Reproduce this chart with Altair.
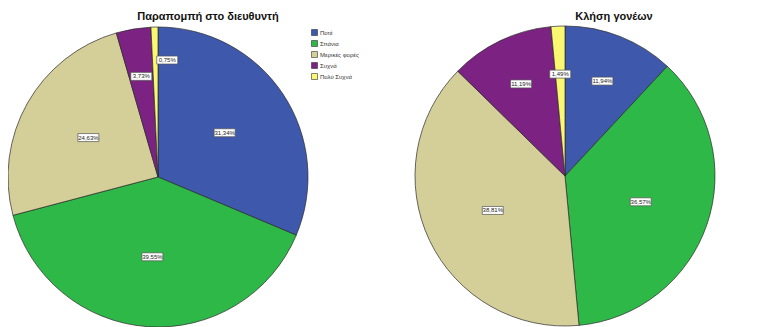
import altair as alt
import pandas as pd

categories = ["Ποτέ", "Σπάνια", "Μερικές φορές", "Συχνά", "Πολύ Συχνά"]
colors = ["#3E58AC", "#2EB848", "#D4CE98", "#7C2282", "#FAF772"]
titles = ["Παραπομπή στο διευθυντή", "Κλήση γονέων"]
values_referral = [31.34, 39.55, 24.63, 3.73, 0.75]
values_parents = [11.94, 36.57, 38.81, 11.19, 1.49]

W, H = 753, 319
R = 150
FONT = "Liberation Sans"


def frame(values):
    return pd.DataFrame({"cat": categories, "idx": list(range(len(categories))), "value": values})


def pie_layers(values, cx, cy, title, tx, channel, legend_x):
    df = frame(values)
    base = alt.Chart(df)
    scale = alt.Scale(domain=categories, range=colors)
    legend = alt.Legend(
        title=None, orient="none", legendX=legend_x, legendY=21,
        symbolType="square", symbolSize=36, symbolStrokeColor="#333",
        symbolStrokeWidth=0.6, symbolOpacity=1,
        labelFontSize=6, labelFont=FONT, labelColor="#333", rowPadding=2,
        labelOffset=2, labelLimit=60,
    )
    enc = {channel: alt.Color("cat:N", scale=scale, legend=legend, sort=categories)} if channel == "color" else {
        channel: alt.Fill("cat:N", scale=scale, legend=legend, sort=categories)}
    arcs = base.mark_arc(outerRadius=R, stroke="#2a2a2a", strokeWidth=0.7).encode(
        theta=alt.Theta("value:Q", stack=True),
        order=alt.Order("idx:Q"),
        x=alt.value(cx), y=alt.value(cy),
        **enc,
    )
    lab = base.transform_window(
        cum="sum(value)", sort=[alt.SortField("idx")], frame=[None, 0]
    ).transform_joinaggregate(total="sum(value)").transform_calculate(
        mid="(datum.cum - datum.value/2) / datum.total * 2 * PI",
        r="datum.value < 1 ? 117 : (datum.value < 15 ? 102 : 80)",
        nudge="datum.value < 1 ? 12 : 0",
    ).transform_calculate(
        lx=f"{cx} + datum.r * sin(datum.mid) + datum.nudge",
        ly=f"{cy} - datum.r * cos(datum.mid)",
        lab="replace(format(datum.value, '.2f'), '.', ',') + '%'",
    )
    boxes = lab.mark_point(
        shape="M-1,-0.38L1,-0.38L1,0.38L-1,0.38Z", size=441, filled=True,
        fill="white", stroke="#555", strokeWidth=0.7, opacity=1,
    ).encode(x=alt.X("lx:Q", scale=None, axis=None), y=alt.Y("ly:Q", scale=None, axis=None))
    texts = lab.mark_text(fontSize=6, font=FONT, color="#222", baseline="middle").encode(
        x=alt.X("lx:Q", scale=None, axis=None), y=alt.Y("ly:Q", scale=None, axis=None), text="lab:N"
    )
    ttl = alt.Chart(pd.DataFrame({"t": [title]})).mark_text(
        fontSize=11, font=FONT, fontWeight="bold", color="#111", baseline="middle"
    ).encode(x=alt.value(tx), y=alt.value(9), text="t:N")
    return [arcs, boxes, texts, ttl]


layers = (
    pie_layers(values_referral, 150, 169, titles[0], 200, "color", 303)
    + pie_layers(values_parents, 557, 168, titles[1], 606, "fill", 710)
)

chart = alt.layer(*layers).properties(
    width=W, height=H, padding=0, autosize=alt.AutoSizeParams(type="none"),
    background="white",
).resolve_scale(theta="independent").configure_view(stroke=None)

chart.save("out.html", embed_options={"renderer": "svg", "actions": False})
